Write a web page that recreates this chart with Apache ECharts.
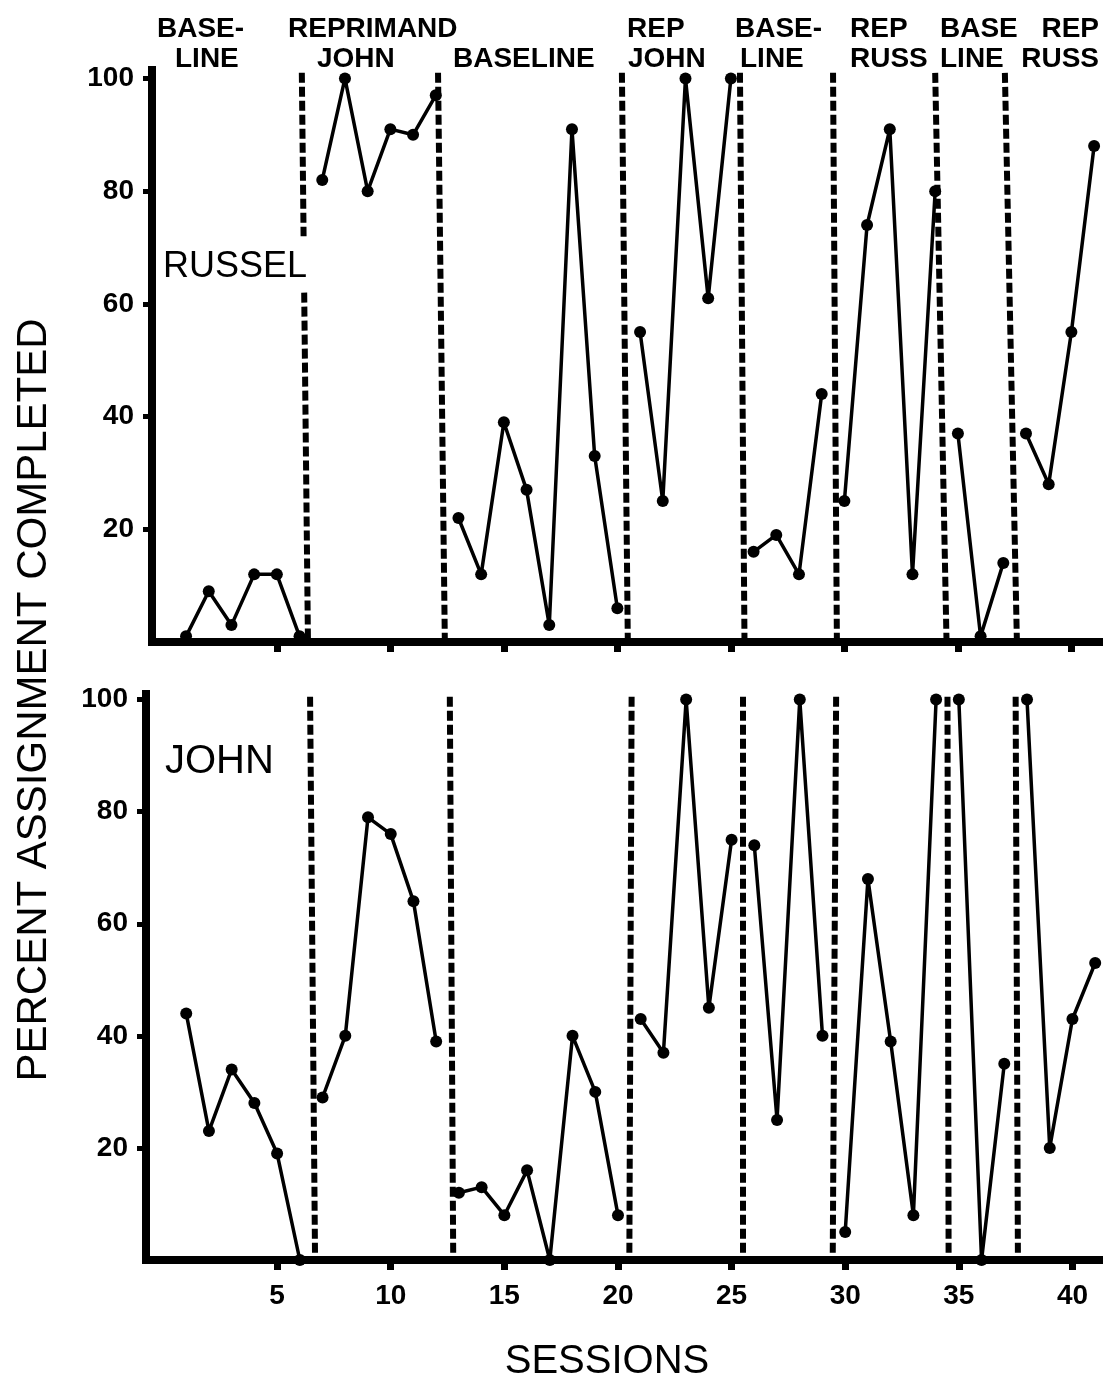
<!DOCTYPE html>
<html>
<head>
<meta charset="utf-8">
<script src="https://cdn.jsdelivr.net/npm/echarts@6/dist/echarts.min.js"></script>
<style>
  html, body { margin: 0; padding: 0; background: #fff; }
  #chart { width: 1103px; height: 1391px; }
</style>
</head>
<body>
<div id="chart"></div>
<script>
// sessions (x values)
var sessions = [1, 2, 3, 4, 5, 6, 7, 8, 9, 10, 11, 12, 13, 14, 15, 16, 17, 18, 19, 20,
  21, 22, 23, 24, 25, 26, 27, 28, 29, 30, 31, 32, 33, 34, 35, 36, 37, 38, 39, 40, 41]
// percent assignment completed
var russel = [1, 9, 3, 12, 12, 1, 82, 100, 80, 91, 90, 97, 22, 12, 39, 27, 3, 91, 33, 6,
  55, 25, 100, 61, 100, 16, 19, 12, 44, 25, 74, 91, 12, 80, 37, 1, 14, 37, 28, 55, 88]
var john = [44, 23, 34, 28, 19, 0, 29, 40, 79, 76, 64, 39, 12, 13, 8, 16, 0, 40, 30, 8,
  43, 37, 100, 45, 75, 74, 25, 100, 40, 5, 68, 39, 8, 100, 100, 0, 35, 100, 20, 43, 53]
// last session of each phase (line is broken between phases)
var phaseEnds = [6, 12, 20, 25, 29, 34, 37, 41]
// phase change lines, session value at top and at bottom
var russelPhaseLines = [[6.1, 6.37], [12.1, 12.4], [20.2, 20.46], [25.4, 25.6], [29.5, 29.67], [34.0, 34.5], [37.07, 37.6]]
var johnPhaseLines = [[6.45, 6.67], [12.6, 12.75], [20.6, 20.5], [25.5, 25.5], [29.6, 29.45], [34.5, 34.55], [37.5, 37.6]]
// the first russel line is broken round the name label
var russelGap = [62, 72]
var xTicks = [5, 10, 15, 20, 25, 30, 35, 40]
var yTicks = [20, 40, 60, 80, 100]
var phaseTop = ['BASE-', 'REPRIMAND', '', 'REP', 'BASE-', 'REP', 'BASE', 'REP']
var phaseBottom = ['LINE', 'JOHN', 'BASELINE', 'JOHN', 'LINE', 'RUSS', 'LINE', 'RUSS']

var myChart = echarts.init(document.getElementById('chart'))

var dashStyle = { type: [10, 4], width: 6, color: '#000' }

function lineAt(pl, yTop, y) {
  // x of a (slightly tilted) phase line at height y
  return pl[0] + (pl[1] - pl[0]) * (yTop - y) / yTop
}

function phaseMarks(lines, yTop, gap) {
  var data = []
  lines.forEach(function(pl, i) {
    if (i === 0 && gap) {
      data.push([{ coord: [pl[0], yTop] }, { coord: [lineAt(pl, yTop, gap[1]), gap[1]] }])
      data.push([{ coord: [lineAt(pl, yTop, gap[0]), gap[0]] }, { coord: [pl[1], 0] }])
    } else {
      data.push([{ coord: [pl[0], yTop] }, { coord: [pl[1], 0] }])
    }
  })
  return {
    silent: true,
    symbol: ['none', 'none'],
    label: { show: false },
    lineStyle: dashStyle,
    data: data
  }
}

function buildSeries(values, idx, marks) {
  var out = []
  var start = 0
  phaseEnds.forEach(function(end, k) {
    var pts = []
    for (var i = start; i < end; i++) pts.push([sessions[i], values[i]])
    var s = {
      type: 'line',
      xAxisIndex: idx,
      yAxisIndex: idx,
      data: pts,
      symbol: 'circle',
      symbolSize: 12,
      clip: false,
      lineStyle: { color: '#000', width: 3.5 },
      itemStyle: { color: '#000' },
      animation: false
    }
    if (k === 0) s.markLine = marks
    out.push(s)
    start = end
  })
  return out
}

var axisLine = { show: true, onZero: false, lineStyle: { color: '#000', width: 8, cap: 'square' } }
var tickFont = { color: '#000', fontSize: 28, fontWeight: 'bold', fontFamily: 'Liberation Sans' }

function xAxisOpt(idx, min, max, showLabel) {
  return {
    type: 'value', gridIndex: idx, min: min, max: max,
    axisLine: axisLine,
    axisTick: { show: true, customValues: xTicks, length: 10, lineStyle: { color: '#000', width: 7 } },
    axisLabel: Object.assign({ show: showLabel, customValues: xTicks, margin: 22 }, tickFont),
    splitLine: { show: false }
  }
}

function yAxisOpt(idx, max) {
  return {
    type: 'value', gridIndex: idx, min: 0, max: max,
    axisLine: axisLine,
    axisTick: { show: true, customValues: yTicks, length: 9, lineStyle: { color: '#000', width: 5 } },
    axisLabel: Object.assign({ customValues: yTicks, margin: 18 }, tickFont),
    splitLine: { show: false }
  }
}

var topLeft = [157, 288, 0, 627, 735, 850, 940, 1033]
var bottomLeft = [175, 317, 453, 628, 740, 850, 940, 1033]
var graphics = []
function txt(text, x, y, size, weight, align) {
  return {
    type: 'text', x: x, y: y, silent: true,
    style: {
      text: text, fill: '#000', fontSize: size, fontWeight: weight, fontFamily: 'Liberation Sans',
      align: align || 'left', textAlign: align || 'left', verticalAlign: 'middle', textVerticalAlign: 'middle'
    }
  }
}
phaseTop.forEach(function(t, i) {
  if (!t) return
  if (i === phaseTop.length - 1) graphics.push(txt(t, 1099, 29, 28, 'bold', 'right'))
  else graphics.push(txt(t, topLeft[i], 29, 28, 'bold'))
})
phaseBottom.forEach(function(t, i) {
  if (i === phaseBottom.length - 1) graphics.push(txt(t, 1099, 59, 28, 'bold', 'right'))
  else graphics.push(txt(t, bottomLeft[i], 59, 28, 'bold'))
})
graphics.push(txt('RUSSEL', 163, 267, 36, 'normal'))
graphics.push(txt('JOHN', 165, 762, 40, 'normal'))
graphics.push(txt('SESSIONS', 607, 1362, 40, 'normal', 'center'))
var yTitle = txt('PERCENT ASSIGNMENT COMPLETED', 34, 700, 42, 'normal', 'center')
yTitle.rotation = Math.PI / 2
graphics.push(yTitle)

var option = {
  backgroundColor: '#fff',
  animation: false,
  grid: [
    { left: 152, top: 70, width: 948, height: 572 },
    { left: 146, top: 694, width: 956, height: 566 }
  ],
  xAxis: [
    xAxisOpt(0, -0.5, 41.26, false),
    xAxisOpt(1, -0.77, 41.3, true)
  ],
  yAxis: [
    yAxisOpt(0, 101.5),
    yAxisOpt(1, 101)
  ],
  graphic: graphics,
  series: buildSeries(russel, 0, phaseMarks(russelPhaseLines, 101, russelGap))
    .concat(buildSeries(john, 1, phaseMarks(johnPhaseLines, 100.5, null)))
}
myChart.setOption(option)
</script>
</body>
</html>
